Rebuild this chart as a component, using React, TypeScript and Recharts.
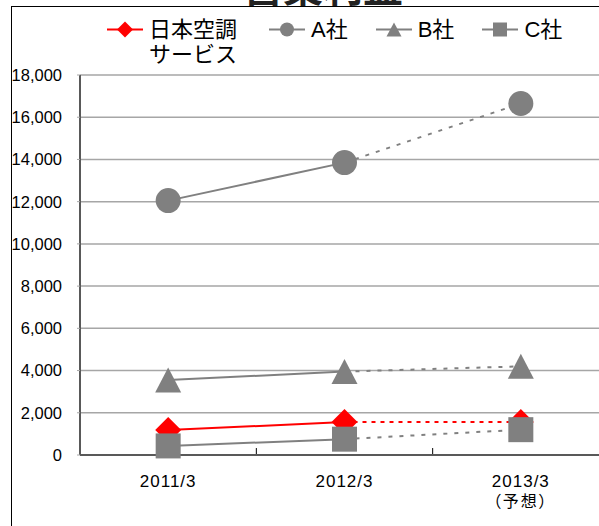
import React from "react"
import {
	LineChart,
	Line,
	XAxis,
	YAxis,
	CartesianGrid,
	ReferenceLine,
} from "recharts"

const periods = ["2011/3", "2012/3", "2013/3"]
const periodNotes = ["", "", "（予想）"]
const yTicks = [0, 2000, 4000, 6000, 8000, 10000, 12000, 14000, 16000, 18000]
const lastActual = 1

const nikkuValues = [1180, 1560, 1560]
const companyAValues = [12050, 13850, 16650]
const companyBValues = [3550, 3950, 4200]
const companyCValues = [430, 750, 1200]

const FONT = "'Liberation Sans', Arial, 'Noto Sans CJK JP', sans-serif"
const CJK = "'Noto Sans CJK JP', sans-serif"

type Shape = "diamond" | "circle" | "triangle" | "square"

const series: {
	key: string
	name: string
	values: number[]
	color: string
	shape: Shape
	dash: string
}[] = [
	{ key: "nk", name: "日本空調サービス", values: nikkuValues, color: "#ff0000", shape: "diamond", dash: "4 5" },
	{ key: "a", name: "A社", values: companyAValues, color: "#808080", shape: "circle", dash: "4 7" },
	{ key: "b", name: "B社", values: companyBValues, color: "#808080", shape: "triangle", dash: "4 7" },
	{ key: "c", name: "C社", values: companyCValues, color: "#808080", shape: "square", dash: "4 7" },
]

const rows = periods.map((p, i) => {
	const row: Record<string, number | string | null> = { x: i + 1, period: p }
	series.forEach((s) => {
		row[s.key] = i <= lastActual ? s.values[i] : null
		row[s.key + "_f"] = i >= lastActual ? s.values[i] : null
	})
	return row
})

const Marker = ({ shape, cx, cy, r, color }: { shape: Shape; cx: number; cy: number; r: number; color: string }) => {
	if (shape === "circle") return <circle cx={cx} cy={cy} r={r} fill={color} />
	if (shape === "square") return <rect x={cx - r} y={cy - r} width={r * 2} height={r * 2} fill={color} />
	if (shape === "triangle")
		return <polygon points={`${cx},${cy - r} ${cx + r + 0.5},${cy + r} ${cx - r - 0.5},${cy + r}`} fill={color} />
	return <polygon points={`${cx},${cy - r} ${cx + r},${cy} ${cx},${cy + r} ${cx - r},${cy}`} fill={color} />
}

const dotFor = (shape: Shape, color: string, only?: (i: number) => boolean) => (props: any) => {
	const { cx, cy, index, value } = props
	if (value == null || cy == null || (only && !only(index))) return <g key={`d-${index}`} />
	const r = shape === "diamond" ? 13 : 12.5
	return <Marker key={`d-${index}`} shape={shape} cx={cx} cy={cy} r={r} color={color} />
}

const XTick = (props: any) => {
	const { x, y, payload } = props
	const i = payload.value - 1
	return (
		<text x={x} y={y + 24} textAnchor="middle" fontSize={17} fill="#000" fontFamily={FONT}>
			<tspan letterSpacing={1}>{periods[i]}</tspan>
			{periodNotes[i] && (
				<tspan
					x={x}
					dy={20}
					fontSize={16}
					letterSpacing={2}
					fontFamily={CJK}
					style={{ fontFeatureSettings: '"palt"' }}
				>
					{periodNotes[i]}
				</tspan>
			)}
		</text>
	)
}

const LegendRow = () => (
	<div
		style={{
			position: "absolute",
			left: 107,
			top: 17,
			display: "flex",
			alignItems: "flex-start",
			gap: 28,
			fontFamily: FONT,
			fontSize: 22,
			lineHeight: "25px",
			color: "#000",
		}}
	>
		{series.map((s) => (
			<div key={s.key} style={{ display: "flex", alignItems: "flex-start" }}>
				<svg width={36} height={25} style={{ marginRight: 6 }}>
					<line x1={0} y1={12.5} x2={36} y2={12.5} stroke={s.color} strokeWidth={2} />
					<Marker shape={s.shape} cx={18} cy={12.5} r={s.shape === "diamond" ? 8 : 7} color={s.color} />
				</svg>
				<div style={{ width: s.key === "nk" ? 92 : undefined }}>{s.name}</div>
			</div>
		))}
	</div>
)

export default function App() {
	return (
		<div
			style={{
				position: "absolute",
				left: 0,
				top: 0,
				width: 599,
				height: 526,
				overflow: "hidden",
				background: "#fff",
			}}
		>
			<div
				style={{
					position: "absolute",
					left: 0,
					width: 646,
					top: -35,
					textAlign: "center",
					fontFamily: CJK,
					fontSize: 40,
					fontWeight: 700,
					lineHeight: "40px",
					color: "#222",
					whiteSpace: "nowrap",
				}}
			>
				営業利益
			</div>
			<div
				style={{
					position: "absolute",
					left: 11,
					top: 6,
					width: 700,
					height: 600,
					borderLeft: "1.5px solid #000",
					borderTop: "1.5px solid #000",
				}}
			/>
			<LegendRow />
			<div style={{ position: "absolute", left: 0, top: 0 }}>
				<LineChart width={640} height={526} data={rows} margin={{ top: 75, right: 31, bottom: 11, left: 0 }}>
					<CartesianGrid vertical={false} stroke="#a6a6a6" strokeWidth={1.5} />
					<XAxis
						dataKey="x"
						type="number"
						domain={[0.5, 3.5]}
						ticks={[1, 2, 3]}
						tickLine={false}
						tick={<XTick />}
						axisLine={{ stroke: "#595959", strokeWidth: 2 }}
						height={60}
						allowDataOverflow
					/>
					<YAxis
						domain={[0, 18000]}
						ticks={yTicks}
						width={80}
						tickSize={3}
						tickMargin={15}
						tickLine={{ stroke: "#a6a6a6" }}
						axisLine={{ stroke: "#595959", strokeWidth: 2 }}
						tick={{ fontSize: 16.5, fill: "#000", fontFamily: FONT }}
						tickFormatter={(v: number) => v.toLocaleString("en-US")}
					/>
					{[1.5, 2.5].map((b) => (
						<ReferenceLine
							key={b}
							segment={[
								{ x: b, y: 0 },
								{ x: b, y: 330 },
							]}
							stroke="#000"
							strokeWidth={1}
						/>
					))}
					{series.map((s) => (
						<Line
							key={s.key + "_f"}
							dataKey={s.key + "_f"}
							stroke={s.color}
							strokeWidth={2}
							strokeDasharray={s.dash}
							dot={dotFor(s.shape, s.color, (i) => i > lastActual)}
							activeDot={false}
							isAnimationActive={false}
						/>
					))}
					{series.map((s) => (
						<Line
							key={s.key}
							dataKey={s.key}
							stroke={s.color}
							strokeWidth={2}
							dot={dotFor(s.shape, s.color)}
							activeDot={false}
							isAnimationActive={false}
						/>
					))}
				</LineChart>
			</div>
		</div>
	)
}
